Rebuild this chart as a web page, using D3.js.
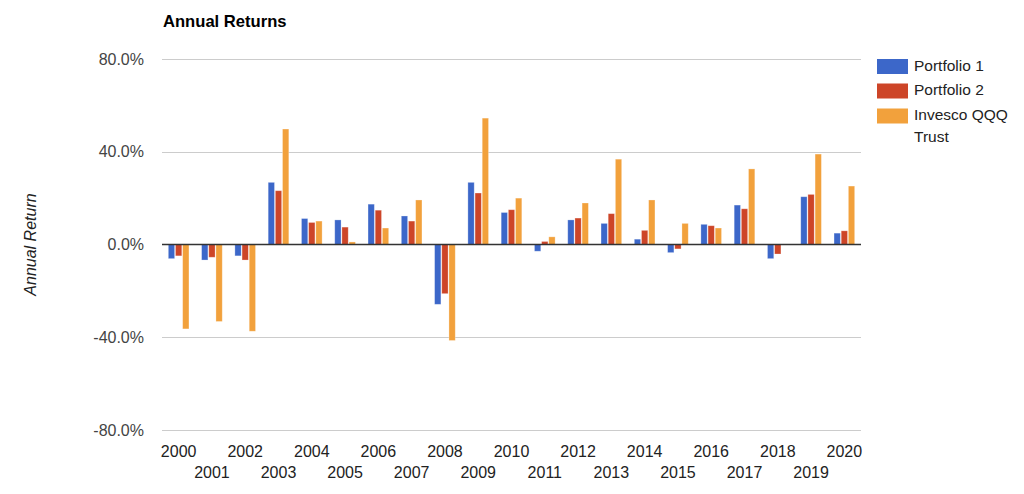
<!DOCTYPE html>
<html>
<head>
<meta charset="utf-8">
<script src="https://cdn.jsdelivr.net/npm/d3@7"></script>
<style>
  html, body { margin: 0; padding: 0; background: #fff; }
  svg { display: block; font-family: "Liberation Sans", Arial, Helvetica, sans-serif; }
</style>
</head>
<body>
<svg id="chart" width="1024" height="494"></svg>
<script>
const years = ["2000","2001","2002","2003","2004","2005","2006","2007","2008","2009","2010",
               "2011","2012","2013","2014","2015","2016","2017","2018","2019","2020"];
const seriesNames = ["Portfolio 1", "Portfolio 2", "Invesco QQQ Trust"];
const portfolio1 = [-6.1, -6.7, -4.9, 26.8, 11.2, 10.6, 17.4, 12.3, -25.8, 26.8, 13.8,
                    -2.9, 10.6, 9.1, 2.3, -3.5, 8.7, 17.0, -6.1, 20.6, 4.9];
const portfolio2 = [-4.9, -5.5, -6.7, 23.2, 9.5, 7.5, 14.8, 10.1, -21.2, 22.2, 15.0,
                    1.3, 11.4, 13.3, 6.1, -1.9, 8.1, 15.4, -4.1, 21.6, 5.9];
const qqq        = [-36.4, -33.2, -37.4, 49.8, 10.1, 1.1, 7.1, 19.2, -41.4, 54.5, 20.0,
                    3.3, 17.9, 36.8, 19.2, 9.1, 7.1, 32.6, -0.1, 39.0, 25.2];
const yTicks = [-80, -40, 0, 40, 80];
const yTickLabels = ["-80.0%", "-40.0%", "0.0%", "40.0%", "80.0%"];
const colors = ["#3c67c9", "#cd4528", "#f2a13c"];

const seriesValues = [portfolio1, portfolio2, qqq];
const svg = d3.select("#chart");

const plotLeft = 162, plotRight = 861, plotTop = 59, plotBottom = 430;

const x = d3.scaleBand().domain(years).range([plotLeft, plotRight]).paddingInner(0).paddingOuter(0);
const groupW = x.bandwidth() * 0.62;
const xs = d3.scaleBand().domain(d3.range(3)).range([0, groupW]).paddingInner(0.12).paddingOuter(0);
const y = d3.scaleLinear().domain([-80, 80]).range([plotBottom, plotTop]);

// Title
svg.append("text").attr("x", 163).attr("y", 27)
  .attr("font-size", 16.6).attr("font-weight", "bold").attr("fill", "#000")
  .text("Annual Returns");

// Grid lines
svg.append("g").selectAll("line").data(yTicks.filter(d => d !== 0)).join("line")
  .attr("x1", plotLeft).attr("x2", plotRight)
  .attr("y1", d => Math.round(y(d)) + 0.5).attr("y2", d => Math.round(y(d)) + 0.5)
  .attr("stroke", "#cccccc").attr("stroke-width", 1);

// Y axis tick labels
const yAxis = d3.axisLeft(y).tickValues(yTicks).tickSize(0).tickPadding(0)
  .tickFormat((d, i) => yTickLabels[i]);
const yg = svg.append("g").attr("transform", `translate(144,0)`).call(yAxis);
yg.select(".domain").remove();
yg.selectAll("text").attr("font-size", 16).attr("fill", "#444")
  .attr("font-family", "Liberation Sans, Arial, sans-serif");

// Y axis title
svg.append("text")
  .attr("transform", `translate(36,${y(0)}) rotate(-90)`)
  .attr("text-anchor", "middle").attr("font-size", 16).attr("font-style", "italic")
  .attr("fill", "#222").text("Annual Return");

// Bars
const bars = [];
seriesValues.forEach((vals, s) => vals.forEach((v, i) => bars.push({ s, i, v })));
svg.append("g").selectAll("rect").data(bars).join("rect")
  .attr("x", d => x(years[d.i]) + (x.bandwidth() - groupW) / 2 + xs(d.s))
  .attr("width", xs.bandwidth())
  .attr("y", d => y(Math.max(0, d.v)))
  .attr("height", d => Math.abs(y(d.v) - y(0)))
  .attr("fill", d => colors[d.s])
  .attr("stroke", "#ffffff").attr("stroke-opacity", 0.35).attr("stroke-width", 0.8);

// Zero line
svg.append("line").attr("x1", plotLeft).attr("x2", plotRight)
  .attr("y1", y(0)).attr("y2", y(0)).attr("stroke", "#333").attr("stroke-width", 1.6);

// X axis labels (staggered)
const xAxis = d3.axisBottom(x).tickSize(0).tickPadding(0);
const xg = svg.append("g").call(xAxis);
xg.select(".domain").remove();
xg.selectAll(".tick text")
  .attr("y", (d, i) => i % 2 === 0 ? 456.5 : 478)
  .attr("dy", 0)
  .attr("font-size", 16).attr("fill", "#222")
  .attr("font-family", "Liberation Sans, Arial, sans-serif");

// Legend
const legendY = [59, 83.5, 108.5];
const lg = svg.append("g");
seriesNames.forEach((name, s) => {
  lg.append("rect").attr("x", 877).attr("y", legendY[s]).attr("width", 31).attr("height", 15)
    .attr("fill", colors[s]);
});
lg.append("text").attr("x", 914).attr("y", 70.5).attr("font-size", 15.5).attr("fill", "#222").text(seriesNames[0]);
lg.append("text").attr("x", 914).attr("y", 95).attr("font-size", 15.5).attr("fill", "#222").text(seriesNames[1]);
const t3 = lg.append("text").attr("x", 914).attr("y", 120).attr("font-size", 15.5).attr("fill", "#222");
t3.append("tspan").attr("x", 914).text("Invesco QQQ");
t3.append("tspan").attr("x", 914).attr("dy", 21.5).text("Trust");
</script>
</body>
</html>
